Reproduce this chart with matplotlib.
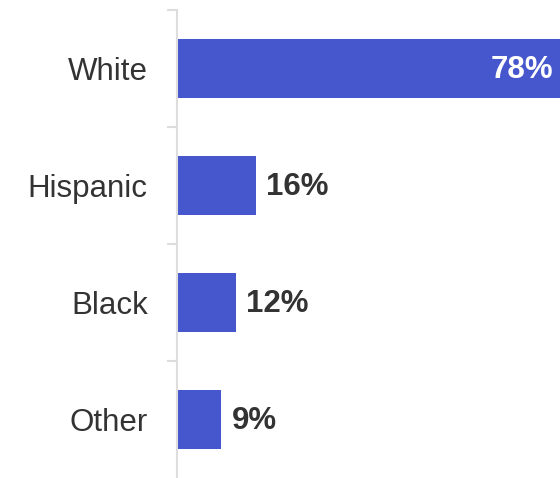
import matplotlib
matplotlib.use("Agg")
import matplotlib.pyplot as plt
import numpy as np

# Share of respondents by race/ethnicity
categories = ["White", "Hispanic", "Black", "Other"]
values = [78, 16, 12, 9]
value_labels = ["78%", "16%", "12%", "9%"]

BAR_COLOR = "#4657CE"
TEXT_COLOR = "#333333"
AXIS_COLOR = "#DDDDDD"

plt.rcParams["font.family"] = ["Liberation Sans", "DejaVu Sans"]

fig = plt.figure(figsize=(5.6, 4.78), dpi=100)
ax = fig.add_axes([177 / 560, 0, 383 / 560, 468 / 478])

y = np.arange(len(categories))
ax.barh(y, values, height=0.5, color=BAR_COLOR)

ax.set_xlim(0, max(values))
ax.set_ylim(len(categories) - 0.5, -0.5)

# value labels: inside the longest bar, outside the rest
for yi, v, lab in zip(y, values, value_labels):
    if v == max(values):
        ax.annotate(lab, (v, yi), xytext=(-4.5, -1), textcoords="offset points",
                    ha="right", va="center", fontsize=22.5, fontweight="bold",
                    color="white")
    else:
        ax.annotate(lab, (v, yi), xytext=(7.5, -1), textcoords="offset points",
                    ha="left", va="center", fontsize=22.5, fontweight="bold",
                    color=TEXT_COLOR)

ax.set_yticks(y)
ax.set_yticklabels(categories, fontsize=22.5, color=TEXT_COLOR)
ax.tick_params(axis="y", which="major", length=0, pad=21)
ax.set_yticks(np.arange(len(categories)) - 0.5, minor=True)
ax.tick_params(axis="y", which="minor", length=7, width=1.5, color=AXIS_COLOR)
ax.set_xticks([])

for side in ["top", "right", "bottom"]:
    ax.spines[side].set_visible(False)
ax.spines["left"].set_color(AXIS_COLOR)
ax.spines["left"].set_linewidth(1.5)

fig.savefig("out.png", dpi=100)
